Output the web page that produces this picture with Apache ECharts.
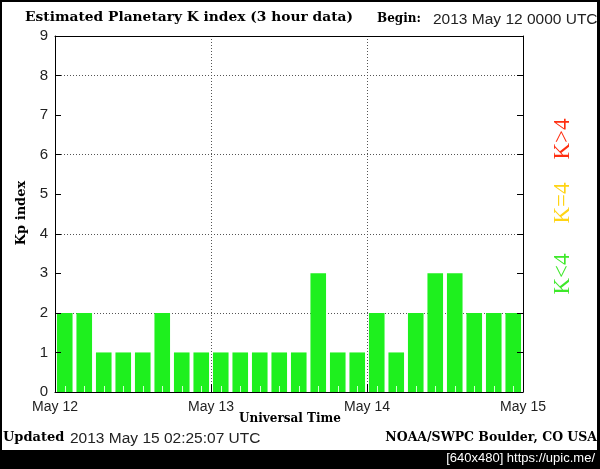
<!DOCTYPE html>
<html><head><meta charset="utf-8">
<script src="https://cdn.jsdelivr.net/npm/echarts@6/dist/echarts.min.js"></script>
<style>html,body{margin:0;padding:0;background:#fff}#c{width:600px;height:469px}</style>
</head><body><div id="c"></div>
<script>
const periods = ['00','03','06','09','12','15','18','21','00','03','06','09','12','15','18','21','00','03','06','09','12','15','18','21'];
const kpValues = [2,2,1,1,1,2,1,1, 1,1,1,1,1,3,1,1, 2,1,2,3,3,2,2,2];
const dayLabels = ['May 12','May 13','May 14','May 15'];
const yTickLabels = ['0','1','2','3','4','5','6','7','8','9'];

const chart = echarts.init(document.getElementById('c'), null, {renderer:'canvas'});
const SERIF = '"DejaVu Serif",serif';
const SANS = '"Liberation Sans","DejaVu Sans",sans-serif';
const frame = () => ({show:true, onZero:false, lineStyle:{color:'#000', width:1}});
chart.setOption({
  backgroundColor:'#fff',
  animation:false,
  grid:{left:55, top:36, right:77, bottom:77, show:false},
  xAxis:[
    {type:'category', data:periods, position:'bottom', z:5,
     axisLine:{show:false}, axisLabel:{show:false},
     axisTick:{show:true, inside:true, length:6, alignWithLabel:true, lineStyle:{color:'#d6ffd6'}},
     splitLine:{show:false}},
    {type:'value', min:0, max:72, interval:24, position:'bottom', z:4,
     axisLine:frame(),
     axisTick:{show:true, inside:true, length:8, lineStyle:{color:'#000'}},
     axisLabel:{show:true, margin:8, color:'#222', fontFamily:SANS, fontSize:14,
       formatter:v=>dayLabels[v/24]},
     splitLine:{show:true, lineStyle:{color:'#555', type:[1,2], width:1}}},
    {type:'value', min:0, max:72, position:'top', z:4,
     axisLine:frame(), axisTick:{show:false}, axisLabel:{show:false}, splitLine:{show:false}}
  ],
  yAxis:[
    {type:'value', min:0, max:9, interval:1, position:'left', z:6,
     axisLine:frame(),
     axisTick:{show:true, inside:true, length:6, lineStyle:{color:'#000'}},
     axisLabel:{show:true, margin:7, color:'#222', fontFamily:SANS, fontSize:15,
       formatter:v=>yTickLabels[v]},
     splitLine:{show:false}},
    {type:'value', min:0, max:9, interval:1, position:'right', z:6,
     axisLine:frame(),
     axisTick:{show:true, inside:true, length:6, lineStyle:{color:'#000'}},
     axisLabel:{show:false}, splitLine:{show:false}},
    {type:'value', min:0, max:9, interval:2, position:'left', z:1,
     axisLine:{show:false}, axisTick:{show:false}, axisLabel:{show:false},
     splitLine:{show:true, lineStyle:{color:'#555', type:[1,2], width:1}}}
  ],
  series:[{
    type:'bar', data:kpValues, xAxisIndex:0, yAxisIndex:0,
    barCategoryGap:'20%', itemStyle:{color:'#1ef01e'}, z:2
  }],
  graphic:[
    {type:'text', left:25, top:10, style:{text:'Estimated Planetary K index (3 hour data)', font:'bold 13.8px '+SERIF, fill:'#000'}},
    {type:'text', left:377, top:13, style:{text:'Begin:', font:'bold 12px '+SERIF, fill:'#000'}},
    {type:'text', left:433, top:12, style:{text:'2013 May 12 0000 UTC', font:'15.5px '+SANS, fill:'#222'}},
    {type:'text', x:22, y:213, rotation:Math.PI/2, style:{text:'Kp index', font:'bold 13px '+SERIF, fill:'#000', align:'center', verticalAlign:'middle'}},
    {type:'text', x:290, y:419, style:{text:'Universal Time', font:'bold 12px '+SERIF, fill:'#000', align:'center', verticalAlign:'middle'}},
    {type:'text', left:3, top:431, style:{text:'Updated', font:'bold 13px '+SERIF, fill:'#000'}},
    {type:'text', left:70, top:431, style:{text:'2013 May 15 02:25:07 UTC', font:'15.5px '+SANS, fill:'#222'}},
    {type:'text', right:3, top:431, style:{text:'NOAA/SWPC Boulder, CO USA', font:'bold 12.5px '+SERIF, fill:'#000'}},
    {type:'text', x:563, y:139, rotation:Math.PI/2, style:{text:'K>4', font:'23px "Liberation Serif",serif', fill:'#ff2e10', align:'center', verticalAlign:'middle'}},
    {type:'text', x:563, y:203, rotation:Math.PI/2, style:{text:'K=4', font:'23px "Liberation Serif",serif', fill:'#ffd414', align:'center', verticalAlign:'middle'}},
    {type:'text', x:563, y:274, rotation:Math.PI/2, style:{text:'K<4', font:'23px "Liberation Serif",serif', fill:'#3ee82a', align:'center', verticalAlign:'middle'}},
    {type:'rect', left:0, top:450, shape:{width:600, height:19}, style:{fill:'#000'}},
    {type:'rect', left:0, top:0, shape:{width:600, height:2}, style:{fill:'#000'}},
    {type:'rect', left:0, top:0, shape:{width:2, height:469}, style:{fill:'#000'}},
    {type:'rect', left:597, top:0, shape:{width:3, height:469}, style:{fill:'#000'}},
    {type:'text', right:5, top:452, style:{text:'[640x480] https://upic.me/', font:'13px '+SANS, fill:'#fff'}}
  ]
});
</script></body></html>
